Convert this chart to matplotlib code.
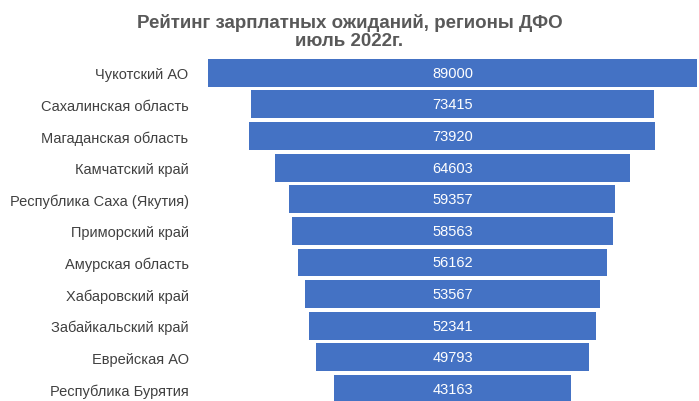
import matplotlib.pyplot as plt

regions = ["Чукотский АО", "Сахалинская область", "Магаданская область", "Камчатский край",
           "Республика Саха (Якутия)", "Приморский край", "Амурская область", "Хабаровский край",
           "Забайкальский край", "Еврейская АО", "Республика Бурятия"]
values = [89000, 73415, 73920, 64603, 59357, 58563, 56162, 53567, 52341, 49793, 43163]

fig = plt.figure(figsize=(6.99, 4.02), dpi=100)
ax = fig.add_axes([0.2976, 0.0, 0.6994, 0.856])
ys = list(range(len(values)))
lefts = [-v / 2 for v in values]
ax.barh(ys, values, left=lefts, height=0.88, color="#4472C4")
for y, v in zip(ys, values):
    ax.text(0, y, str(v), ha="center", va="center", color="white", fontsize=10.5, family="Liberation Sans")
ax.set_xlim(-44500, 44500)
ax.set_ylim(10.38, -0.5)
ax.set_yticks(ys)
ax.set_yticklabels(regions, fontsize=10.5, color="#404040", family="Liberation Sans")
ax.tick_params(axis="y", length=0, pad=14)
ax.set_xticks([])
for s in ax.spines.values():
    s.set_visible(False)
fig.text(0.5, 0.965, "Рейтинг зарплатных ожиданий, регионы ДФО\nиюль 2022г.", ha="center", va="top",
         fontsize=13.5, fontweight="bold", color="#595959", family="Liberation Sans", linespacing=1.1)
fig.savefig("out.png", dpi=100)
